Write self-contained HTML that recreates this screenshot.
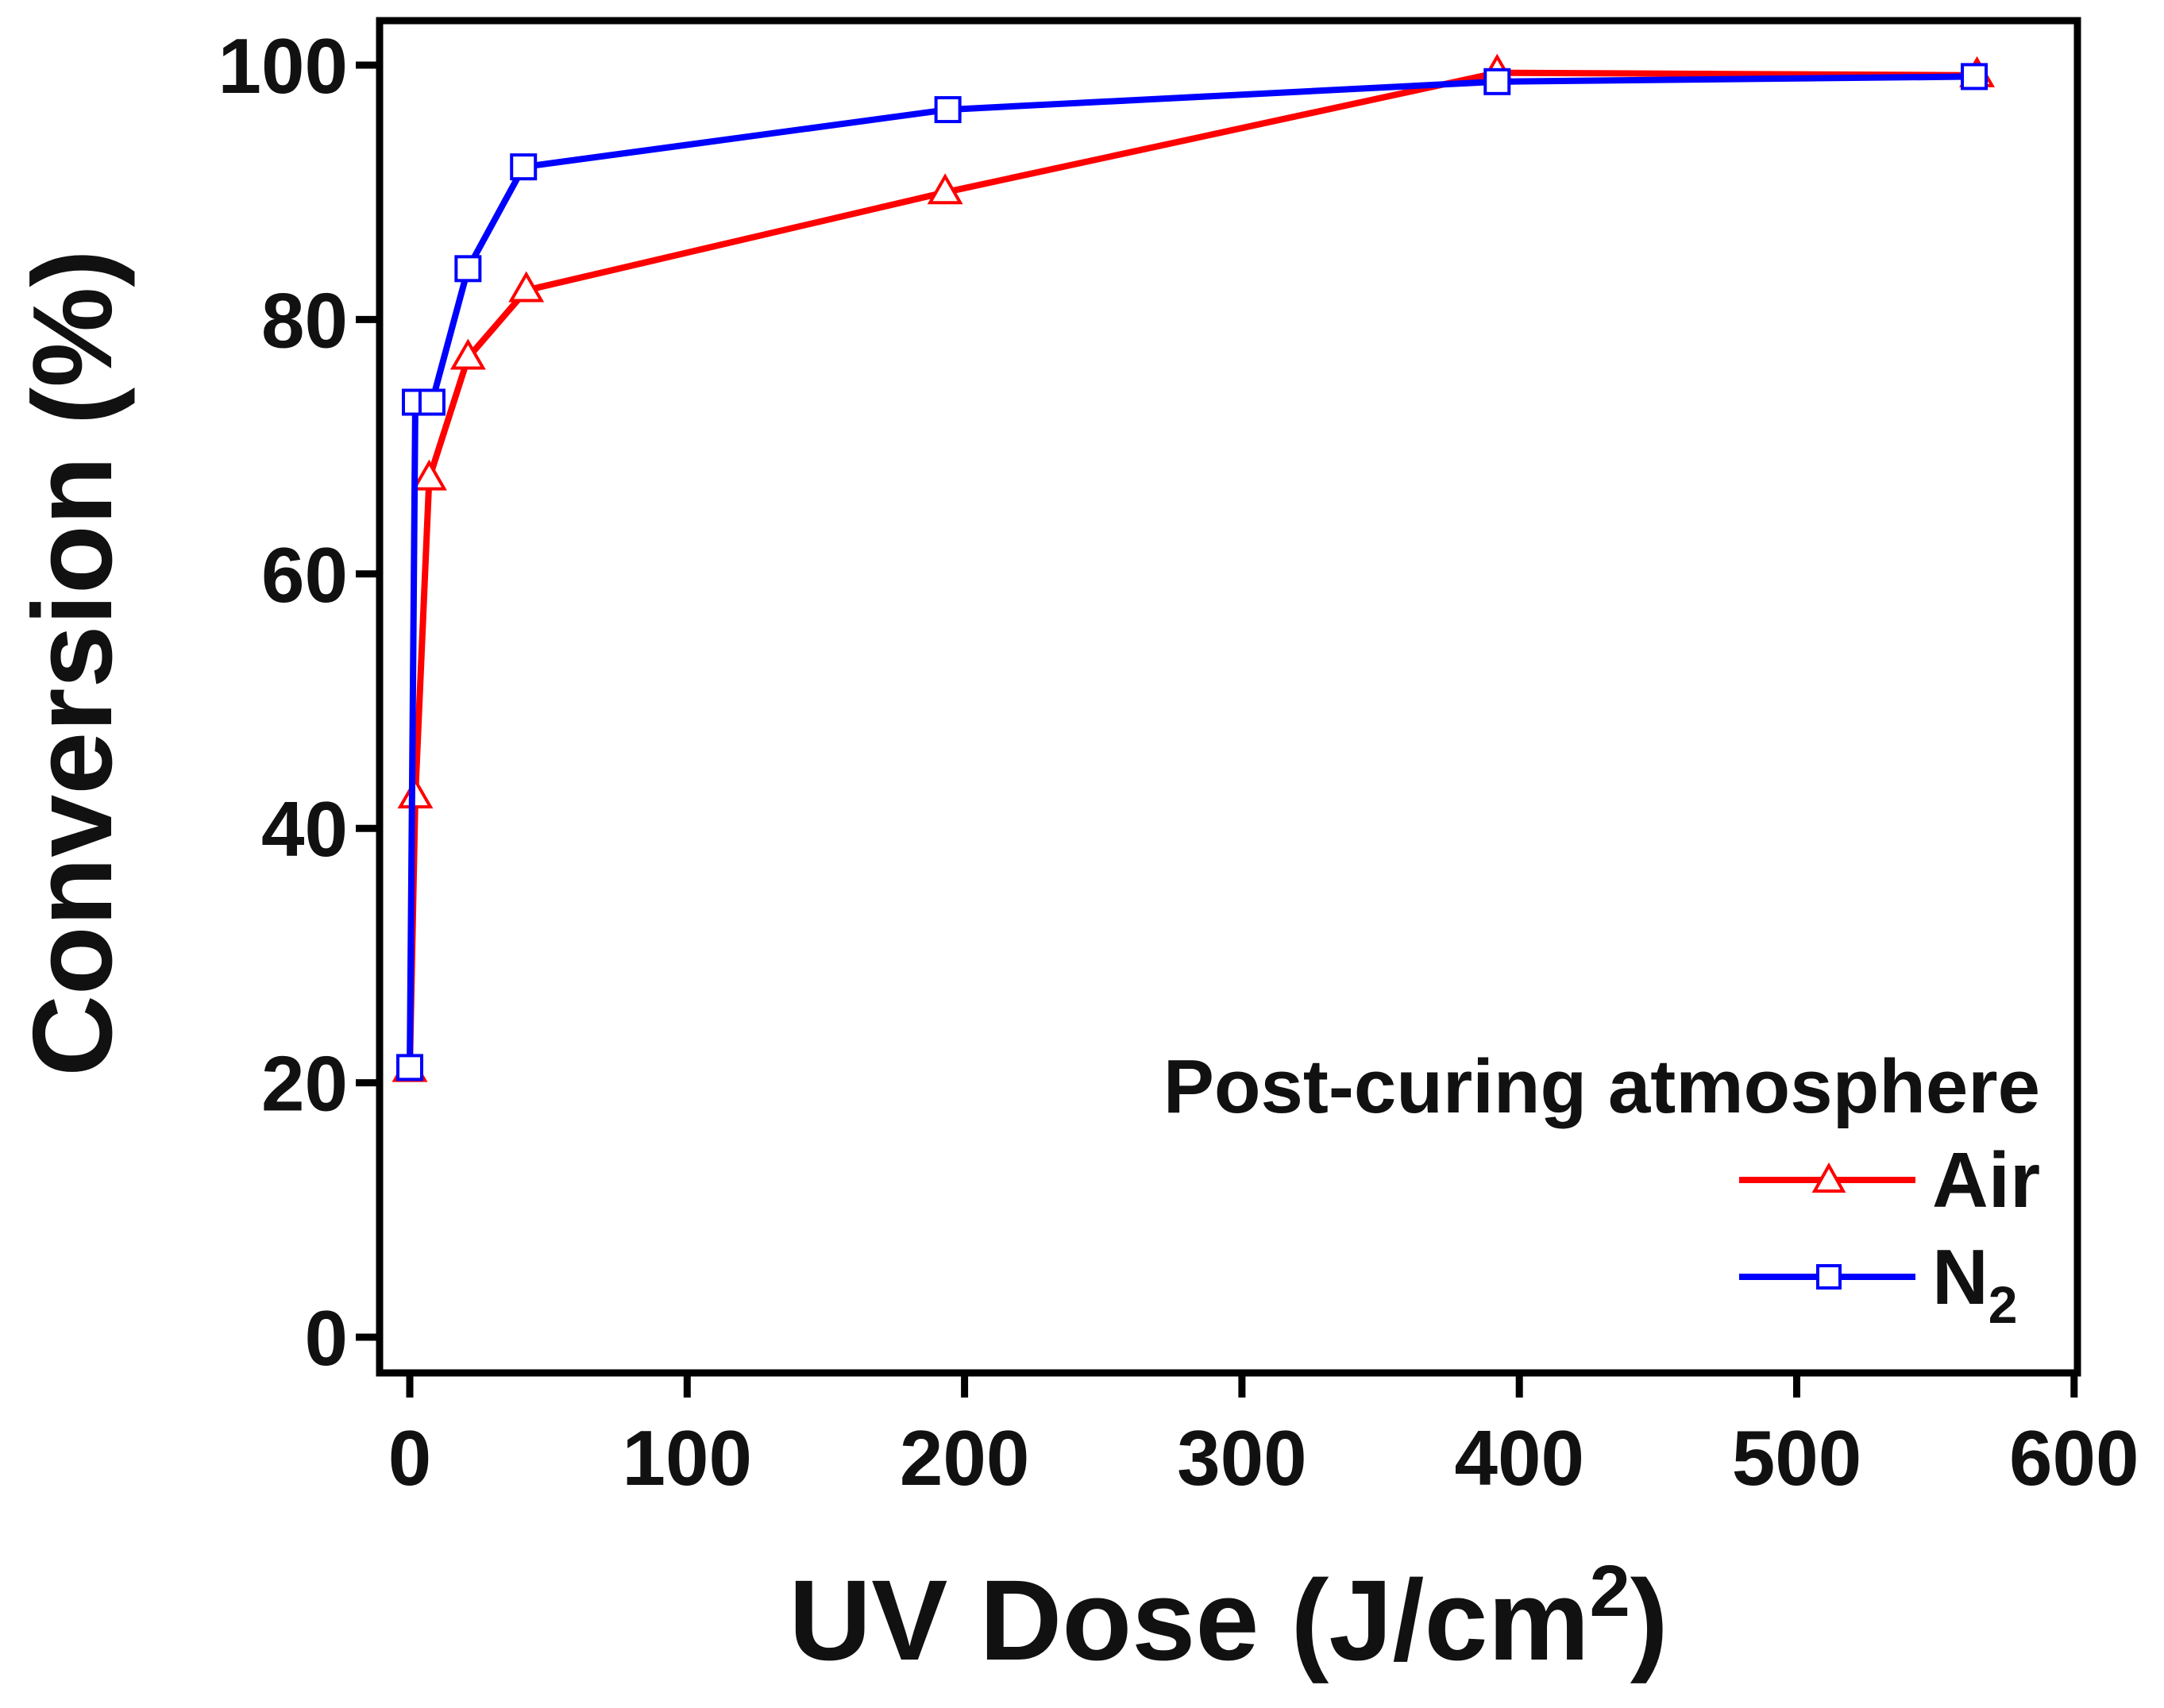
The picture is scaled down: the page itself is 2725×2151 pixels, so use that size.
<!DOCTYPE html>
<html><head><meta charset="utf-8"><style>body{margin:0;background:#fff}svg{display:block}text{font-family:"Liberation Sans",Arial,sans-serif;font-weight:bold;fill:#111}</style></head>
<body>
<svg id="chart" width="2725" height="2151" xmlns="http://www.w3.org/2000/svg">
<g id="plot"></g>
<text transform="translate(140,835) rotate(-90)" text-anchor="middle" font-size="142">Conversion (%)</text>
<text x="1547" y="2090" text-anchor="middle" font-size="144">UV Dose (J/cm<tspan font-size="92" dy="-55">2</tspan><tspan dy="55">)</tspan></text>
<g>
<text x="2569" y="1401" text-anchor="end" font-size="96">Post-curing atmosphere</text>
<line x1="2190" y1="1486" x2="2412" y2="1486" stroke="#ff0000" stroke-width="8"/>
<polygon points="2303,1468 2321,1500 2285,1500" fill="#fff" stroke="#ff0000" stroke-width="4"/>
<text x="2433" y="1520" font-size="98">Air</text>
<line x1="2190" y1="1608" x2="2412" y2="1608" stroke="#0000ff" stroke-width="8"/>
<rect x="2289" y="1594" width="28" height="28" fill="#fff" stroke="#0000ff" stroke-width="4"/>
<text x="2433" y="1642" font-size="98">N<tspan font-size="66" dy="24">2</tspan></text>
</g>
</svg>
<script>
const xTicks=[0,100,200,300,400,500,600];
const yTicks=[0,20,40,60,80,100];
const airX=[0,2,7,21,42,193,392,565];
const airY=[21,42.5,67.5,77,82.3,90,99.4,99.2];
const n2X=[0,2,8,21,41,194,392,564];
const n2Y=[21.2,73.5,73.5,84,92,96.5,98.7,99.1];
const X=v=>516+v*349.3/100;
const Y=v=>1684-v*16.02;
const NS="http://www.w3.org/2000/svg";
const g=document.getElementById('plot');
function mk(t,a){const e=document.createElementNS(NS,t);for(const k in a)e.setAttribute(k,a[k]);g.appendChild(e);return e;}
const fr=mk('rect',{x:478,y:26,width:2138,height:1703,fill:'none',stroke:'#000','stroke-width':9});


xTicks.forEach(v=>{
 const l=mk('line',{x1:X(v),y1:1729,x2:X(v),y2:1760,stroke:'#000','stroke-width':9});
 
 
 const t=mk('text',{x:X(v),y:1870,'text-anchor':'middle','font-size':98});t.textContent=v;
 
 
});
yTicks.forEach(v=>{
 const l=mk('line',{x1:448,y1:Y(v),x2:478,y2:Y(v),stroke:'#000','stroke-width':9});
 
 
 const t=mk('text',{x:438,y:Y(v)+35,'text-anchor':'end','font-size':98});t.textContent=v;
 
 
});
function series(xs,ys,col,name,marker){
 const p=mk('polyline',{points:xs.map((x,i)=>X(x)+','+Y(ys[i])).join(' '),fill:'none',stroke:col,'stroke-width':8,'stroke-linejoin':'round'});
 
 
 xs.forEach((x,i)=>{
  const cx=X(x),cy=Y(ys[i]);let m;
  if(marker==='tri') m=mk('polygon',{points:`${cx},${cy-20} ${cx+19},${cy+13} ${cx-19},${cy+13}`,fill:'#fff',stroke:col,'stroke-width':4});
  else m=mk('rect',{x:cx-15,y:cy-15,width:30,height:30,fill:'#fff',stroke:col,'stroke-width':4});
  
  
 });
}
series(airX,airY,'#ff0000','air','tri');
series(n2X,n2Y,'#0000ff','n2','sq');
</script>
</body></html>
